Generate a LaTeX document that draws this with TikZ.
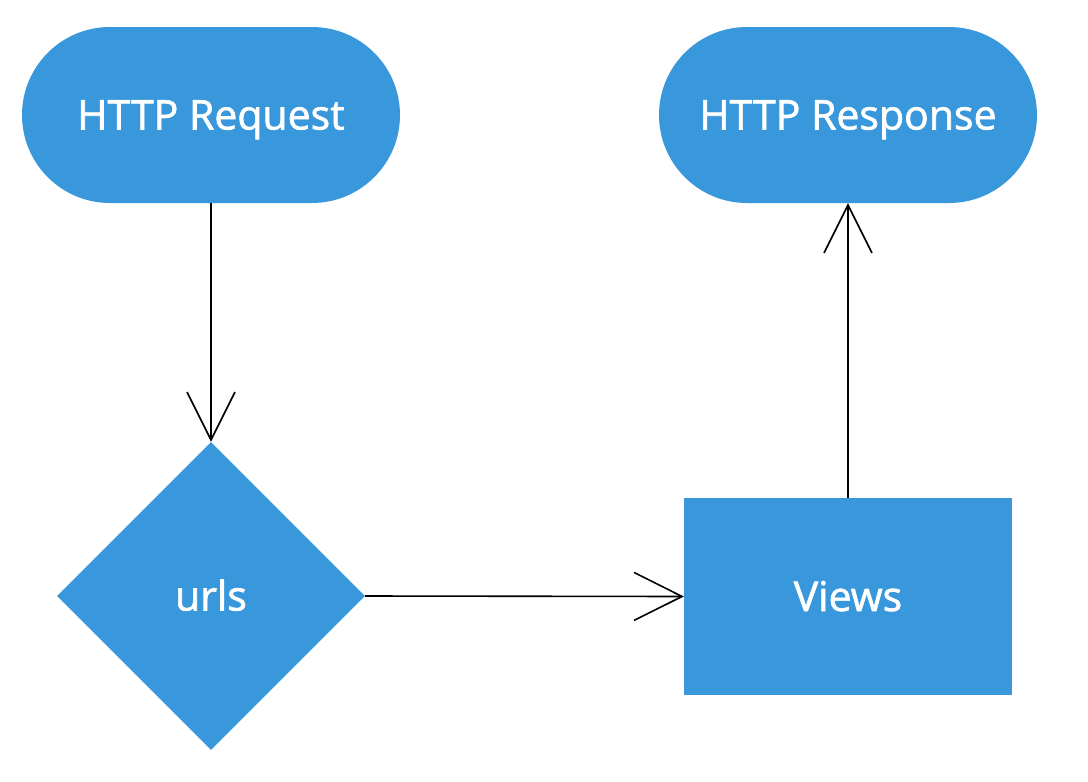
\documentclass[tikz,border=0pt]{standalone}
\usepackage{fontspec}
\setmainfont{Open Sans}
\newfontface\nodefont{Open Sans}[FakeBold=1.6]
\usetikzlibrary{shapes.geometric,arrows.meta}
\definecolor{nodeblue}{HTML}{3898DB}
\begin{document}
\begin{tikzpicture}[x=1pt,y=-1pt,
  base/.style={fill=nodeblue,text=white,font=\nodefont\fontsize{41}{46}\selectfont,inner sep=0pt,text height=29pt,text depth=0pt},
  terminal/.style={base,rectangle,rounded corners=88pt,minimum width=378pt,minimum height=176pt},
  decision/.style={base,diamond,minimum width=308pt,minimum height=308pt,aspect=1},
  process/.style={base,rectangle,minimum width=328pt,minimum height=197pt},
  flow/.style={draw=black,line width=1.6pt,-{Straight Barb[length=48pt,width=48pt,line width=1.6pt]}}
]
\useasboundingbox (0,0) rectangle (1088,782);
\node[terminal] (req) at (211,115) {HTTP Request};
\node[terminal] (resp) at (848,115) {HTTP Response};
\node[decision] (urls) at (211,596) {urls};
\node[process] (views) at (848,596.5) {Views};
\draw[flow] (req.south) -- (urls.north);
\draw[flow] (urls.east) -- (views.west);
\draw[flow] (views.north) -- (resp.south);
\end{tikzpicture}
\end{document}
